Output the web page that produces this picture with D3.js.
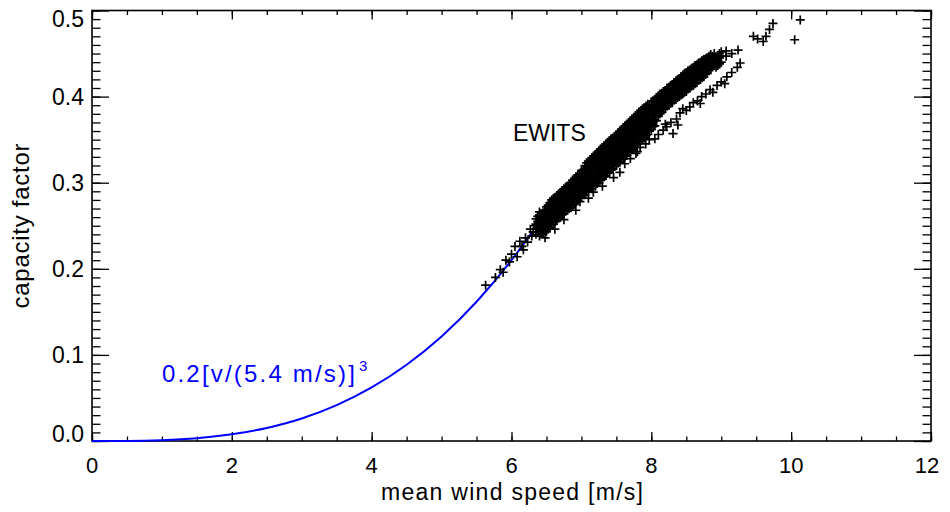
<!DOCTYPE html>
<html lang="en">
<meta charset="utf-8">
<head>
    <script src='https://d3js.org/d3.v7.min.js'></script>
    <style>
        body { margin: 0; background: #fff; }
        text { font-family: "Liberation Sans", Arial, Helvetica, sans-serif; }
    </style>
</head>
<body>
<script>
    // ---- data ----
    // fitted cubic curve, sampled points
    var curveSpeed = [0, 0.5, 1, 1.5, 2, 2.5, 3, 3.5, 4, 4.5, 5, 5.5, 6, 6.3];
    var curveCF = [0, 0.0001, 0.001, 0.0033, 0.0078, 0.0152, 0.0262, 0.0417, 0.0622, 0.0886, 0.1215, 0.1617, 0.2100, 0.2430];

    // EWITS sites: sparse start of the cloud, along the curve
    var ewitsTail = [
        [5.63,0.181],[5.77,0.190],[5.84,0.199],[5.88,0.196],[5.92,0.210],[5.97,0.208],
        [6.00,0.217],[6.05,0.226],[6.08,0.214],[6.12,0.232],[6.15,0.226],[6.17,0.222],
        [6.20,0.236],[6.23,0.231],[6.27,0.246],[6.29,0.238],[6.31,0.243],[6.33,0.250]
    ];

    // dense band: speed, capacity factors seen at that speed
    var ewitsBand = [
        [6.35,[0.240,0.246,0.252,0.258]],
        [6.40,[0.238,0.244,0.250,0.256,0.262,0.266]],
        [6.45,[0.242,0.247,0.253,0.259,0.265]],
        [6.50,[0.243,0.249,0.255,0.261,0.267,0.272]],
        [6.55,[0.248,0.254,0.260,0.266,0.272,0.277]],
        [6.60,[0.252,0.258,0.264,0.270,0.276,0.282]],
        [6.65,[0.256,0.262,0.268,0.274,0.280,0.285]],
        [6.70,[0.260,0.266,0.272,0.278,0.284,0.289]],
        [6.75,[0.264,0.270,0.276,0.282,0.288,0.293]],
        [6.80,[0.268,0.274,0.280,0.286,0.291,0.296]],
        [6.85,[0.271,0.277,0.283,0.289,0.295,0.300]],
        [6.90,[0.275,0.281,0.287,0.293,0.299,0.305]],
        [6.95,[0.279,0.285,0.291,0.297,0.303,0.309]],
        [7.00,[0.283,0.289,0.295,0.301,0.307,0.314]],
        [7.05,[0.286,0.292,0.298,0.304,0.310,0.316,0.320]],
        [7.10,[0.290,0.296,0.302,0.308,0.314,0.320,0.325]],
        [7.15,[0.293,0.299,0.305,0.311,0.317,0.323,0.329]],
        [7.20,[0.296,0.302,0.308,0.314,0.320,0.326,0.333]],
        [7.25,[0.300,0.306,0.312,0.318,0.324,0.330,0.337]],
        [7.30,[0.304,0.310,0.316,0.322,0.328,0.334,0.341]],
        [7.35,[0.308,0.314,0.320,0.326,0.332,0.338,0.345]],
        [7.40,[0.312,0.318,0.324,0.330,0.336,0.342,0.349]],
        [7.45,[0.316,0.322,0.328,0.334,0.340,0.346,0.352]],
        [7.50,[0.320,0.326,0.332,0.338,0.344,0.350,0.356]],
        [7.55,[0.324,0.330,0.336,0.342,0.348,0.354,0.360]],
        [7.60,[0.328,0.334,0.340,0.346,0.352,0.358,0.364]],
        [7.65,[0.332,0.338,0.344,0.350,0.356,0.362,0.368]],
        [7.70,[0.336,0.342,0.348,0.354,0.360,0.366,0.372]],
        [7.75,[0.341,0.347,0.353,0.359,0.365,0.371,0.376]],
        [7.80,[0.345,0.351,0.357,0.363,0.369,0.375,0.380]],
        [7.85,[0.349,0.355,0.361,0.367,0.373,0.379,0.384]],
        [7.90,[0.352,0.358,0.364,0.370,0.376,0.382,0.387]],
        [7.95,[0.356,0.362,0.368,0.374,0.380,0.386,0.391]],
        [8.00,[0.362,0.368,0.374,0.380,0.386,0.394]],
        [8.05,[0.366,0.372,0.378,0.384,0.390,0.397]],
        [8.10,[0.377,0.383,0.389,0.395,0.401]],
        [8.15,[0.382,0.388,0.394,0.400,0.404]],
        [8.20,[0.386,0.392,0.398,0.404,0.407]],
        [8.25,[0.390,0.396,0.402,0.408,0.411]],
        [8.30,[0.393,0.399,0.405,0.411,0.414]],
        [8.35,[0.397,0.403,0.409,0.415,0.418]],
        [8.40,[0.400,0.406,0.412,0.418,0.421]],
        [8.45,[0.403,0.409,0.415,0.421,0.425]],
        [8.50,[0.406,0.412,0.418,0.424,0.428]],
        [8.55,[0.410,0.416,0.422,0.428,0.431]],
        [8.60,[0.413,0.419,0.425,0.431,0.434]],
        [8.65,[0.416,0.422,0.428,0.434,0.437]],
        [8.70,[0.420,0.426,0.432,0.438,0.440]],
        [8.75,[0.423,0.429,0.435,0.441,0.443]],
        [8.80,[0.427,0.433,0.439,0.445]],
        [8.85,[0.432,0.438,0.444,0.449]],
        [8.90,[0.437,0.443,0.450]],
        [8.95,[0.436,0.442,0.448]],
        [9.00,[0.440,0.447,0.452]],
        [9.07,[0.447,0.453]],
        [9.15,[0.450]],
        [9.24,[0.454]]
    ];

    // more sites inside the same band, between the columns above
    var ewitsBandFill = [
        [6.375,[0.243,0.249,0.255,0.261]],
        [6.425,[0.241,0.247,0.253,0.259,0.264]],
        [6.475,[0.245,0.250,0.256,0.262,0.268]],
        [6.525,[0.246,0.252,0.258,0.264,0.270,0.274]],
        [6.575,[0.251,0.257,0.263,0.269,0.275,0.280]],
        [6.625,[0.255,0.261,0.267,0.273,0.279,0.283]],
        [6.675,[0.259,0.265,0.271,0.277,0.283,0.287]],
        [6.725,[0.263,0.269,0.275,0.281,0.287,0.291]],
        [6.775,[0.267,0.273,0.279,0.285,0.290,0.295]],
        [6.825,[0.270,0.276,0.282,0.288,0.294,0.298]],
        [6.875,[0.274,0.280,0.286,0.292,0.298,0.303]],
        [6.925,[0.278,0.284,0.290,0.296,0.302,0.307]],
        [6.975,[0.282,0.288,0.294,0.300,0.306,0.311]],
        [7.025,[0.286,0.292,0.298,0.304,0.310,0.315]],
        [7.075,[0.289,0.295,0.301,0.307,0.313,0.319,0.323]],
        [7.125,[0.293,0.299,0.305,0.311,0.317,0.323,0.327]],
        [7.175,[0.296,0.302,0.308,0.314,0.320,0.326,0.331]],
        [7.225,[0.299,0.305,0.311,0.317,0.323,0.329,0.335]],
        [7.275,[0.303,0.309,0.315,0.321,0.327,0.333,0.339]],
        [7.325,[0.307,0.313,0.319,0.325,0.331,0.337,0.343]],
        [7.375,[0.311,0.317,0.323,0.329,0.335,0.341,0.347]],
        [7.425,[0.315,0.321,0.327,0.333,0.339,0.345,0.351]],
        [7.475,[0.319,0.325,0.331,0.337,0.343,0.349,0.354]],
        [7.525,[0.323,0.329,0.335,0.341,0.347,0.353,0.358]],
        [7.575,[0.327,0.333,0.339,0.345,0.351,0.357,0.362]],
        [7.625,[0.331,0.337,0.343,0.349,0.355,0.361,0.366]],
        [7.675,[0.335,0.341,0.347,0.353,0.359,0.365,0.370]],
        [7.725,[0.339,0.345,0.351,0.357,0.363,0.369,0.374]],
        [7.775,[0.344,0.350,0.356,0.362,0.368,0.374,0.378]],
        [7.825,[0.348,0.354,0.360,0.366,0.372,0.378,0.382]],
        [7.875,[0.351,0.357,0.363,0.369,0.375,0.381,0.386]],
        [7.925,[0.355,0.361,0.367,0.373,0.379,0.385,0.389]],
        [7.975,[0.360,0.366,0.372,0.378,0.384,0.390]],
        [8.025,[0.365,0.371,0.377,0.383,0.389,0.395]],
        [8.075,[0.372,0.378,0.384,0.390,0.396,0.399]],
        [8.125,[0.380,0.386,0.392,0.398,0.403]],
        [8.175,[0.385,0.391,0.397,0.403,0.406]],
        [8.225,[0.389,0.395,0.401,0.407,0.410]],
        [8.275,[0.392,0.398,0.404,0.410,0.413]],
        [8.325,[0.396,0.402,0.408,0.414,0.416]],
        [8.375,[0.399,0.405,0.411,0.417,0.420]],
        [8.425,[0.402,0.408,0.414,0.420,0.423]],
        [8.475,[0.405,0.411,0.417,0.423,0.427]],
        [8.525,[0.409,0.415,0.421,0.427,0.430]],
        [8.575,[0.412,0.418,0.424,0.430,0.433]],
        [8.625,[0.415,0.421,0.427,0.433,0.436]],
        [8.675,[0.419,0.425,0.431,0.437,0.439]],
        [8.725,[0.422,0.428,0.434,0.440,0.442]],
        [8.775,[0.426,0.432,0.438,0.444]],
        [8.825,[0.430,0.436,0.442,0.447]],
        [8.875,[0.435,0.441,0.447]],
        [8.925,[0.434,0.440,0.446]],
        [8.975,[0.438,0.445,0.450]]
    ];

    // scattered points under the band and the lower branch
    var ewitsLower = [
        [6.48,0.236],[6.62,0.246],[6.75,0.257],[6.92,0.268],[6.98,0.278],[7.10,0.282],
        [7.17,0.289],[7.30,0.296],[7.41,0.315],[7.46,0.306],[7.55,0.312],[7.62,0.322],
        [7.70,0.328],[7.78,0.334],[7.80,0.336],[7.84,0.341],[7.92,0.345],[7.97,0.350],
        [8.05,0.351],[8.10,0.356],[8.17,0.361],[8.20,0.368],[8.22,0.365],[8.28,0.370],
        [8.31,0.357],[8.36,0.374],[8.38,0.367],[8.41,0.381],[8.45,0.386],[8.50,0.384],
        [8.55,0.388],[8.60,0.393],[8.66,0.395],[8.70,0.392],[8.72,0.400],[8.78,0.403],
        [8.84,0.408],[8.88,0.405],[8.94,0.413],[9.00,0.417],[9.05,0.415],[9.08,0.423],
        [9.15,0.428],[9.23,0.434],[9.27,0.439]
    ];

    // the few high-wind sites at the top right
    var ewitsHigh = [
        [9.46,0.470],[9.52,0.467],[9.60,0.464],[9.64,0.470],[9.69,0.478],[9.74,0.485],
        [10.05,0.466],[10.13,0.489]
    ];

    var xTicks = [0, 2, 4, 6, 8, 10, 12];
    var yTicks = [0, 0.1, 0.2, 0.3, 0.4, 0.5];

    // ---- layout ----
    var W = 950, H = 512;
    var margin = {top: 10.5, right: 19, bottom: 71, left: 92};
    var width = W - margin.left - margin.right;
    var height = H - margin.top - margin.bottom;

    var svg = d3.select('body')
        .append("svg")
        .attr("width", W)
        .attr("height", H)
        .append("g")
        .attr("transform", "translate(" + margin.left + "," + margin.top + ")");

    var x = d3.scaleLinear().domain([0, 12]).range([0, width]);
    var y = d3.scaleLinear().domain([0, 0.5]).range([height, 0]);

    var xMinor = d3.range(0, 12.01, 0.5);
    var yMinor = d3.range(0, 0.5001, 0.01);

    // ticks point inward on all four sides
    function tickAxis(axis, scale, values, size) {
        return axis(scale).tickValues(values).tickSize(size).tickFormat("");
    }
    var axes = [
        [d3.axisBottom, x, xMinor, -4.5, "translate(0," + height + ")"],
        [d3.axisBottom, x, xTicks, -9, "translate(0," + height + ")"],
        [d3.axisTop, x, xMinor, -4.5, "translate(0,0)"],
        [d3.axisTop, x, xTicks, -9, "translate(0,0)"],
        [d3.axisLeft, y, yMinor, -8.5, "translate(0,0)"],
        [d3.axisLeft, y, yTicks, -17, "translate(0,0)"],
        [d3.axisRight, y, yMinor, -8.5, "translate(" + width + ",0)"],
        [d3.axisRight, y, yTicks, -17, "translate(" + width + ",0)"]
    ];
    for (var i = 0; i < axes.length; i++) {
        var g = svg.append("g")
            .attr("transform", axes[i][4])
            .call(tickAxis(axes[i][0], axes[i][1], axes[i][2], axes[i][3]));
        g.select(".domain").remove();
        g.selectAll("line").attr("stroke", "#000").attr("stroke-width", 1.3);
    }

    // frame
    svg.append("rect")
        .attr("width", width)
        .attr("height", height)
        .attr("fill", "none")
        .attr("stroke", "#000")
        .attr("stroke-width", 1.6);

    // tick labels
    svg.selectAll(".xlab")
        .data(xTicks)
        .enter()
        .append("text")
        .attr("x", function(d) { return x(d) - (d == 12 ? 4 : 0); })
        .attr("y", height + 32)
        .attr("text-anchor", "middle")
        .attr("font-size", 22)
        .text(function(d) { return d; });

    svg.selectAll(".ylab")
        .data(yTicks)
        .enter()
        .append("text")
        .attr("x", -8)
        .attr("y", function(d) {
            var shift = d == 0 ? -7 : (d == 0.5 ? 8 : 0);
            return y(d) + shift;
        })
        .attr("dy", "0.36em")
        .attr("text-anchor", "end")
        .attr("font-size", 23)
        .text(function(d) { return d3.format(".1f")(d); });

    svg.append("text")
        .attr("x", 289)
        .attr("y", height + 59)
        .attr("font-size", 23)
        .attr("textLength", 262)
        .attr("lengthAdjust", "spacing")
        .text("mean wind speed [m/s]");

    svg.append("text")
        .attr("transform", "rotate(-90)")
        .attr("x", -298)
        .attr("y", -63)
        .attr("font-size", 24)
        .attr("textLength", 165)
        .attr("lengthAdjust", "spacing")
        .text("capacity factor");

    // blue curve
    var curvePoints = [];
    for (var i = 0; i < curveSpeed.length; i++) {
        curvePoints.push([curveSpeed[i], curveCF[i]]);
    }
    var line = d3.line()
        .x(function(d) { return x(d[0]); })
        .y(function(d) { return y(d[1]); })
        .curve(d3.curveMonotoneX);

    svg.append("path")
        .datum(curvePoints)
        .attr("d", line)
        .attr("fill", "none")
        .attr("stroke", "#0000ff")
        .attr("stroke-width", 2);

    // EWITS points
    var points = ewitsTail.slice();
    var bands = ewitsBand.concat(ewitsBandFill);
    for (var i = 0; i < bands.length; i++) {
        for (var j = 0; j < bands[i][1].length; j++) {
            points.push([bands[i][0], bands[i][1][j]]);
        }
    }
    points = points.concat(ewitsLower, ewitsHigh);

    svg.append("g")
        .selectAll("path")
        .data(points)
        .enter()
        .append("path")
        .attr("transform", function(d) { return "translate(" + x(d[0]) + "," + y(d[1]) + ")"; })
        .attr("d", "M-4.5,0H4.5M0,-4.5V4.5")
        .attr("stroke", "#000")
        .attr("stroke-width", 1.7)
        .attr("fill", "none");

    // labels inside the plot
    svg.append("text")
        .attr("x", x(6.02))
        .attr("y", y(0.349))
        .attr("font-size", 23)
        .text("EWITS");

    svg.append("text")
        .attr("x", x(1.0))
        .attr("y", y(0.069))
        .attr("fill", "#0000ff")
        .attr("font-size", 24)
        .attr("textLength", 193)
        .attr("lengthAdjust", "spacing")
        .text("0.2[v/(5.4 m/s)]");
    svg.append("text")
        .attr("x", x(1.0) + 197)
        .attr("y", y(0.069) - 11)
        .attr("fill", "#0000ff")
        .attr("font-size", 15)
        .text("3");
</script>
</body>
</html>
